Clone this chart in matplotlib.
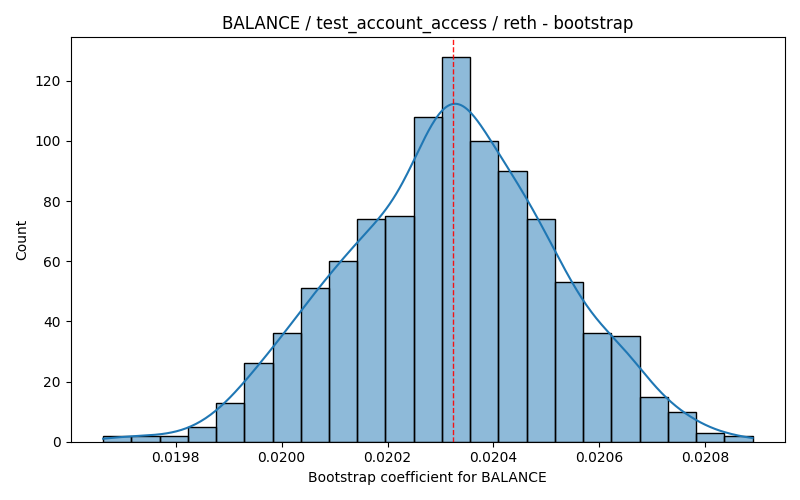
import numpy as np
import matplotlib
matplotlib.use("Agg")
import matplotlib.pyplot as plt

# bootstrap histogram
bin_lo = 0.0196628
bin_hi = 0.0208892
counts = [2, 2, 2, 5, 13, 26, 36, 51, 60, 74, 75, 108,
          128, 100, 90, 74, 53, 36, 35, 15, 10, 3, 2]
mean_coef = 0.0203232

title = "BALANCE / test_account_access / reth - bootstrap"
xlabel = "Bootstrap coefficient for BALANCE"

counts = np.asarray(counts, dtype=float)
edges = np.linspace(bin_lo, bin_hi, len(counts) + 1)
centers = 0.5 * (edges[:-1] + edges[1:])
width = edges[1] - edges[0]

# kde from the binned counts (scott bandwidth)
n = counts.sum()
mu = np.sum(centers * counts) / n
sd = np.sqrt(np.sum(counts * (centers - mu) ** 2) / n)
bw = sd * n ** (-1 / 5)
grid = np.linspace(bin_lo, bin_hi, 400)
dens = np.zeros_like(grid)
for c, k in zip(centers, counts):
    dens += k * np.exp(-0.5 * ((grid - c) / bw) ** 2)
dens /= bw * np.sqrt(2 * np.pi)
kde_counts = dens * width

fig, ax = plt.subplots(figsize=(8, 5), dpi=100)

ax.bar(edges[:-1], counts, width=width, align='edge',
       color='#1f77b4', alpha=0.5, edgecolor='none')
ax.bar(edges[:-1], counts, width=width, align='edge',
       fill=False, edgecolor='black', linewidth=1)
ax.plot(grid, kde_counts, color='#1f77b4', linewidth=1.5)
ax.axvline(mean_coef, color='red', linestyle='--', linewidth=1, alpha=0.9)

ax.set_title(title)
ax.set_xlabel(xlabel)
ax.set_ylabel('Count')
ax.margins(x=0.05)

plt.tight_layout()
plt.savefig('out.png', dpi=100)
